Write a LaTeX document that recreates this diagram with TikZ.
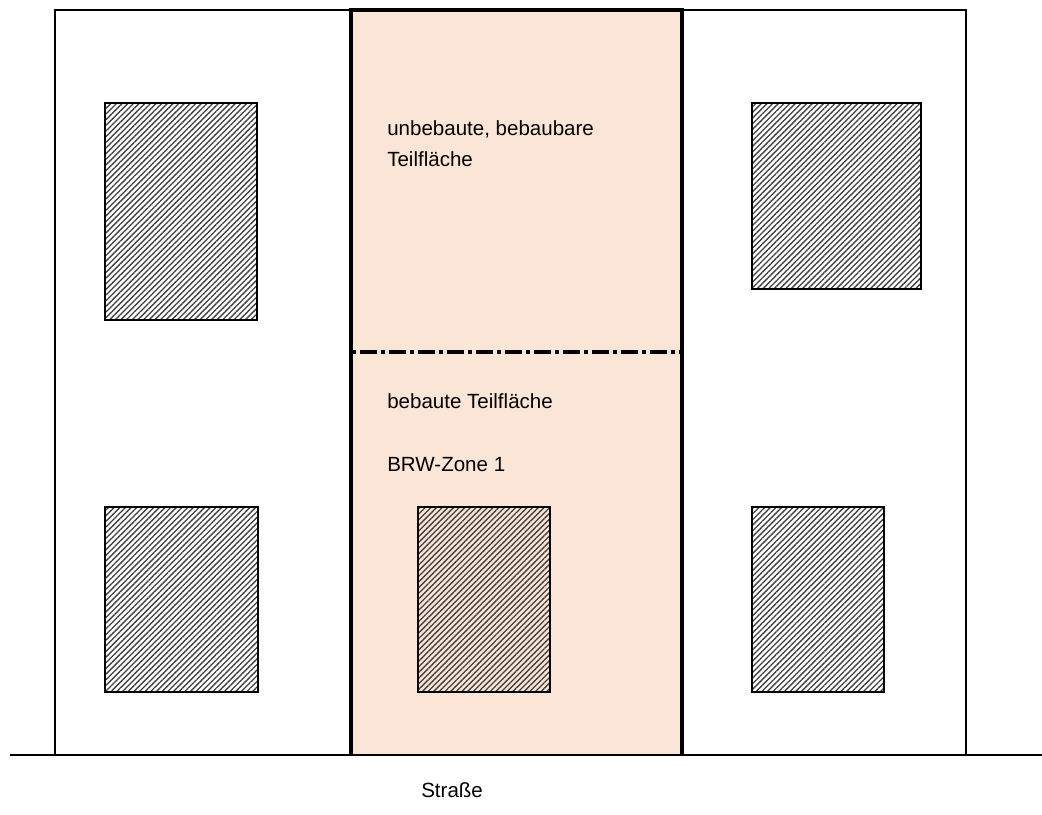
\documentclass[tikz,border=0pt]{standalone}
\usepackage{fontspec}
\setmainfont{Liberation Sans}
\usetikzlibrary{patterns.meta}
\definecolor{plotpink}{HTML}{FBE5D6}
\tikzset{
	house/.style={line width=1.5pt, pattern={Lines[angle=45,distance=3pt,line width=1pt]}, pattern color=black!75},
	lbl/.style={anchor=base west, inner sep=0pt, align=left, font=\fontsize{15.4}{23.2}\selectfont},
}
\begin{document}
\begin{tikzpicture}[x=0.75pt, y=-0.75pt, line join=miter]
	\useasboundingbox (0,0) rectangle (1042,814);
	\def\ytop{10}\def\yroad{755}
	% Grundstuecke
	\fill[plotpink] (351,\ytop) rectangle (682,\yroad);
	\draw[line width=1.5pt] (55,\yroad)--(55,\ytop)--(351,\ytop);
	\draw[line width=1.5pt] (682,\ytop)--(966,\ytop)--(966,\yroad);
	\draw[line width=2.6pt] (351,\yroad)--(351,\ytop)--(682,\ytop)--(682,\yroad);
	% Gebaeude
	\foreach \xa/\ya/\xb/\yb in {105/103/257/320, 752/103/921/289, 105/507/258/692, 418/507/550/692, 752/507/884/692}
		\draw[house] (\xa,\ya) rectangle (\xb,\yb);
	% Teilflaechen
	\draw[line width=2.7pt, dash pattern=on 3pt off 3pt on 12.75pt off 3pt] (352,352)--(681,352);
	\node[lbl] (unbebaut) at (387,166) {unbebaute, bebaubare\\Teilfläche};
	\node[lbl] (bebaut) at (387,408) {bebaute Teilfläche};
	\node[lbl] (zone) at (387,471) {BRW-Zone 1};
	% Strasse
	\draw[line width=2pt] (10,\yroad)--(1042,\yroad);
	\node[lbl] (strasse) at (421,797) {Straße};
\end{tikzpicture}
\end{document}
